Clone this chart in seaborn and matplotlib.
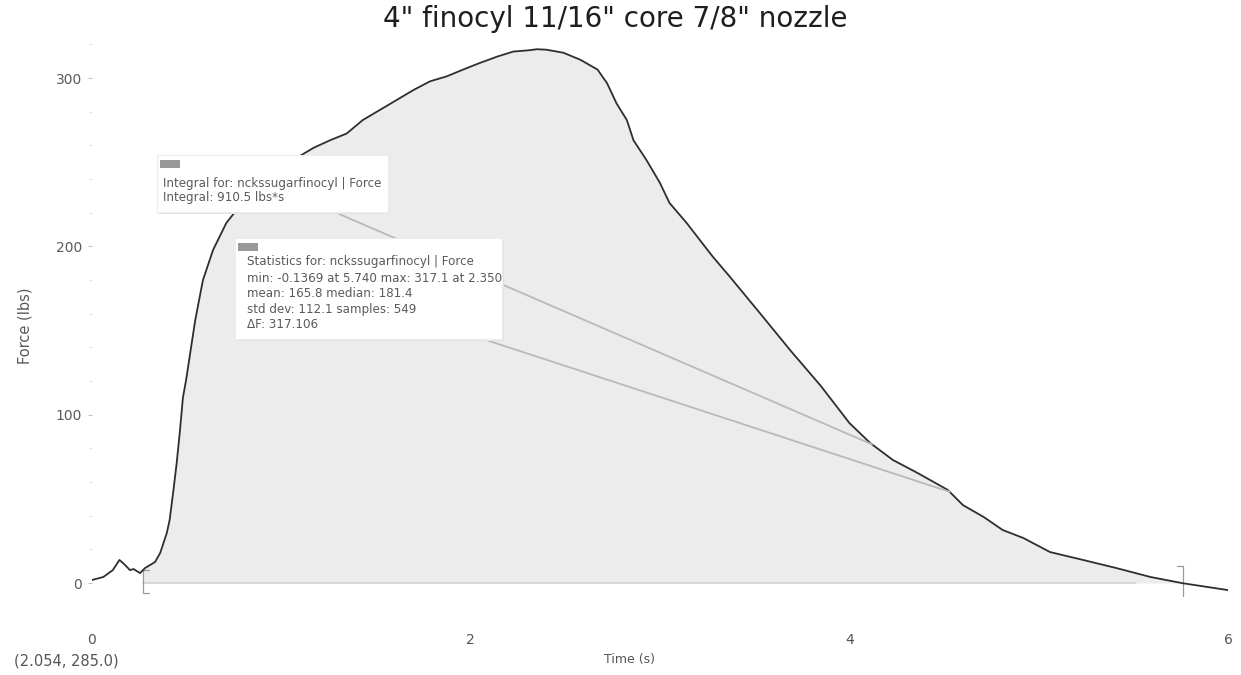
import numpy as np
import pandas as pd
import matplotlib
matplotlib.use("Agg")
import matplotlib.pyplot as plt
import matplotlib.patches as mpatches
from matplotlib.ticker import MultipleLocator
import seaborn as sns

# ---------------- data ----------------
time_s = [0.00, 0.06, 0.11, 0.145, 0.175, 0.20, 0.22, 0.254, 0.28, 0.333, 0.36,
          0.395, 0.41, 0.43, 0.447, 0.465, 0.48, 0.497, 0.545, 0.586, 0.64, 0.71,
          0.764, 0.85, 0.95, 1.02, 1.08, 1.17, 1.257, 1.345, 1.43, 1.52, 1.61,
          1.70, 1.785, 1.874, 1.96, 2.05, 2.14, 2.225, 2.31, 2.35, 2.40, 2.49,
          2.58, 2.67, 2.72, 2.77, 2.825, 2.86, 2.93, 3.00, 3.05, 3.14, 3.21,
          3.28, 3.37, 3.53, 3.69, 3.85, 4.00, 4.11, 4.23, 4.36, 4.52, 4.60,
          4.71, 4.81, 4.92, 5.06, 5.235, 5.41, 5.59, 5.76, 6.00]
force_lbs = [1.8, 3.6, 7.7, 13.7, 10.7, 7.7, 8.3, 5.9, 8.9, 12.5, 17.8,
             29.7, 37.4, 55.0, 71.0, 91.0, 110.0, 120.6, 156.0, 180.0, 198.0, 214.0,
             221.6, 229.0, 240.0, 247.0, 252.5, 258.5, 263.0, 267.0, 275.0, 281.0, 287.0,
             293.0, 298.0, 301.0, 305.0, 309.0, 312.7, 315.7, 316.5, 317.1, 316.8, 315.0,
             310.8, 305.0, 297.0, 285.0, 275.0, 263.0, 251.0, 237.6, 225.8, 214.0, 203.8,
             193.7, 181.8, 160.0, 138.0, 117.0, 95.1, 83.2, 73.1, 65.4, 55.3, 46.3,
             39.2, 31.5, 26.7, 18.4, 13.7, 8.9, 3.6, -0.1, -4.2]

region_start = 0.27
region_end = 5.76

x_ticks = [0, 2, 4, 6]
y_ticks = [0, 100, 200, 300]

title = '4" finocyl 11/16" core 7/8" nozzle'
integral_lines = ["Integral for: nckssugarfinocyl | Force",
                  "Integral: 910.5 lbs*s"]
stats_lines = ["Statistics for: nckssugarfinocyl | Force",
               "min: -0.1369 at 5.740 max: 317.1 at 2.350",
               "mean: 165.8 median: 181.4",
               "std dev: 112.1 samples: 549",
               "\u0394F: 317.106"]
cursor_text = "(2.054, 285.0)"
leader_times = [4.12, 4.53]

# ---------------- figure ----------------
sns.set_theme(style="white")
plt.rcParams["font.family"] = ["DejaVu Sans"]

W, H = 1241, 675
fig = plt.figure(figsize=(W / 100, H / 100), dpi=100)

def fx(px):
    return px / W

def fy(py):
    return 1 - py / H

ax_left, ax_right, ax_top, ax_bot = 92, 1228, 27.5, 596.5
ax = fig.add_axes([fx(ax_left), fy(ax_bot), (ax_right - ax_left) / W, (ax_bot - ax_top) / H])

df = pd.DataFrame({"Time (s)": time_s, "Force (lbs)": force_lbs})
t = np.array(time_s)
f = np.array(force_lbs)

# filled integral region
mask = (t > region_start) & (t < region_end)
tf = np.concatenate([[region_start], t[mask], [region_end]])
ff = np.concatenate([[np.interp(region_start, t, f)], f[mask], [np.interp(region_end, t, f)]])
ax.fill_between(tf, 0, ff, color="#ececec", lw=0, zorder=1)
ax.plot([region_start, region_end - 0.25], [0, 0], color="#d8d8d8", lw=1.5, zorder=1.5)

# brackets
bc = "#9a9a9a"
ax.plot([region_start + 0.03, region_start, region_start, region_start + 0.03],
        [8, 8, -6, -6], color=bc, lw=0.9, zorder=2)
ax.plot([region_end - 0.03, region_end, region_end, region_end - 0.03],
        [10, 10, -10, -10], color=bc, lw=0.9, zorder=2)

sns.lineplot(data=df, x="Time (s)", y="Force (lbs)", ax=ax, color="#2e2e2e",
             lw=1.3, zorder=3)

ax.set_xlim(0, 6)
ax.set_ylim(-8, 330)
for s in ax.spines.values():
    s.set_visible(False)

ax.set_xticks(x_ticks)
ax.set_xticklabels([str(v) for v in x_ticks])
ax.set_yticks(y_ticks)
ax.set_yticklabels([str(v) for v in y_ticks])
ax.yaxis.set_minor_locator(MultipleLocator(20))
ax.tick_params(axis="x", length=0, pad=26, labelsize=10, labelcolor="#555555")
ax.tick_params(axis="y", which="major", left=True, length=3, width=0.8, color="#c4c4c4",
               pad=4, labelsize=10, labelcolor="#5a5a5a")
ax.tick_params(axis="y", which="minor", left=True, length=2, width=0.8, color="#e2e2e2")

ax.set_xlabel("Time (s)", fontsize=9, color="#555555")
ax.set_ylabel("Force (lbs)", fontsize=10.5, color="#5a5a5a")
ax.xaxis.set_label_coords((630 - ax_left) / (ax_right - ax_left), -(660 - ax_bot) / (ax_bot - ax_top))
ax.yaxis.set_label_coords(-(ax_left - 25) / (ax_right - ax_left), (ax_bot - 326) / (ax_bot - ax_top))
ax.xaxis.label.set_verticalalignment("center")
ax.yaxis.label.set_verticalalignment("center")

fig.text(0.496, fy(19), title, ha="center", va="center", fontsize=20, color="#1e1e1e")
fig.text(fx(66), fy(661), cursor_text, ha="center", va="center", fontsize=10.5, color="#555555")

# leader lines (from the boxes to the curve)
line_col = "#b9b9b9"
starts = [(fx(323), fy(207)), (fx(477), fy(337))]
for (sx, sy), lt in zip(starts, leader_times):
    ax.annotate("", xy=(lt, np.interp(lt, t, f)), xycoords="data",
                xytext=(sx, sy), textcoords="figure fraction",
                arrowprops=dict(arrowstyle="-", color=line_col, lw=1.3,
                                shrinkA=0, shrinkB=0), zorder=4)

# annotation boxes
def add_box(x0, y0, x1, y1, lines, line_ys, text_x):
    shadow = mpatches.Rectangle((fx(x0 + 2), fy(y1 + 2)), fx(x1 - x0), (y1 - y0) / H,
                                transform=fig.transFigure, facecolor="#e4e4e4",
                                edgecolor="none", zorder=5)
    box = mpatches.Rectangle((fx(x0), fy(y1)), fx(x1 - x0), (y1 - y0) / H,
                             transform=fig.transFigure, facecolor="white",
                             edgecolor="#ededed", lw=0.8, zorder=6)
    swatch = mpatches.Rectangle((fx(x0 + 3), fy(y0 + 13)), fx(20), 8 / H,
                                transform=fig.transFigure, facecolor="#999999",
                                edgecolor="none", zorder=7)
    for p in (shadow, box, swatch):
        fig.patches.append(p)
    for txt, ly in zip(lines, line_ys):
        fig.text(fx(text_x), fy(ly), txt, ha="left", va="center", fontsize=8.6,
                 color="#5a5a5a", zorder=8)

add_box(157, 155, 388, 212, integral_lines, [184, 198], 163)
add_box(235, 238, 502, 339, stats_lines, [262, 279, 294, 309, 324], 247)

fig.savefig("out.png", dpi=100, facecolor="white")
